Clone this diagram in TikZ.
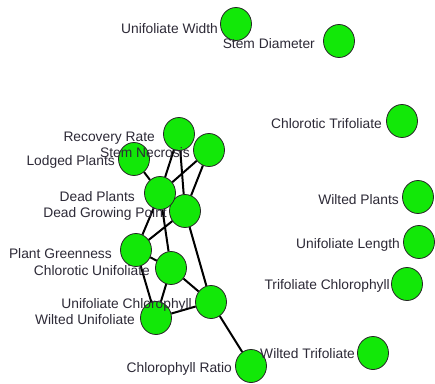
\documentclass[tikz,border=0pt]{standalone}
\usepackage{fontspec}
\setmainfont{Liberation Sans}
\usetikzlibrary{shapes.geometric}
\definecolor{vgreen}{RGB}{18,232,8}
\definecolor{txtc}{RGB}{45,42,55}
\begin{document}
\begin{tikzpicture}[x=1pt,y=-1pt,
  vtx/.style={ellipse,draw=black!85,fill=vgreen,minimum width=31pt,minimum height=33pt,inner sep=0pt,line width=0.8pt},
  lbl/.style={anchor=base east,inner sep=0pt,text=txtc,font=\fontsize{13.8}{15}\selectfont},
  edge/.style={line width=2pt,black}]
\useasboundingbox (0,0) rectangle (435,383);
\fill[white] (0,0) rectangle (435,383);
% vertices
\node[vtx] (UW) at (236,24) {};
\node[vtx] (SD) at (339,41) {};
\node[vtx] (CT) at (402,121) {};
\node[vtx] (WP) at (418,197) {};
\node[vtx] (UL) at (419,242) {};
\node[vtx] (TC) at (407,284) {};
\node[vtx] (WT) at (373,353) {};
\node[vtx] (CR) at (251,366) {};
\node[vtx] (WU) at (156,318) {};
\node[vtx] (UC) at (211,302) {};
\node[vtx] (CU) at (171,268) {};
\node[vtx] (PG) at (136,250) {};
\node[vtx] (DGP) at (185,211) {};
\node[vtx] (DP) at (160,193) {};
\node[vtx] (LP) at (134,159) {};
\node[vtx] (RR) at (179,134) {};
\node[vtx] (SN) at (209,150) {};
% edges
\draw[edge] (LP) -- (DP);
\draw[edge] (RR) -- (DP);
\draw[edge] (RR) -- (DGP);
\draw[edge] (SN) -- (DP);
\draw[edge] (SN) -- (DGP);
\draw[edge] (DP) -- (PG);
\draw[edge] (DGP) -- (PG);
\draw[edge] (DP) -- (CU);
\draw[edge] (DGP) -- (UC);
\draw[edge] (PG) -- (CU);
\draw[edge] (PG) -- (WU);
\draw[edge] (CU) -- (UC);
\draw[edge] (CU) -- (WU);
\draw[edge] (WU) -- (UC);
\draw[edge] (UC) -- (CR);
% labels
\node[lbl] (lUW) at (218,33) {Unifoliate Width};
\node[lbl] (lSD) at (315,48) {Stem Diameter};
\node[lbl] (lCT) at (382,128) {Chlorotic Trifoliate};
\node[lbl] (lWP) at (399,204) {Wilted Plants};
\node[lbl] (lUL) at (400,248) {Unifoliate Length};
\node[lbl] (lTC) at (390,289) {Trifoliate Chlorophyll};
\node[lbl] (lWT) at (355,358) {Wilted Trifoliate};
\node[lbl] (lCR) at (232,372) {Chlorophyll Ratio};
\node[lbl] (lWU) at (135,324) {Wilted Unifoliate};
\node[lbl] (lUC) at (192,308) {Unifoliate Chlorophyll};
\node[lbl] (lCU) at (150,275) {Chlorotic Unifoliate};
\node[lbl] (lPG) at (112,258) {Plant Greenness};
\node[lbl] (lDGP) at (167,217) {Dead Growing Point};
\node[lbl] (lDP) at (135,201) {Dead Plants};
\node[lbl] (lLP) at (115,165) {Lodged Plants};
\node[lbl] (lRR) at (155,141) {Recovery Rate};
\node[lbl] (lSN) at (190,157) {Stem Necrosis};
\end{tikzpicture}
\end{document}
